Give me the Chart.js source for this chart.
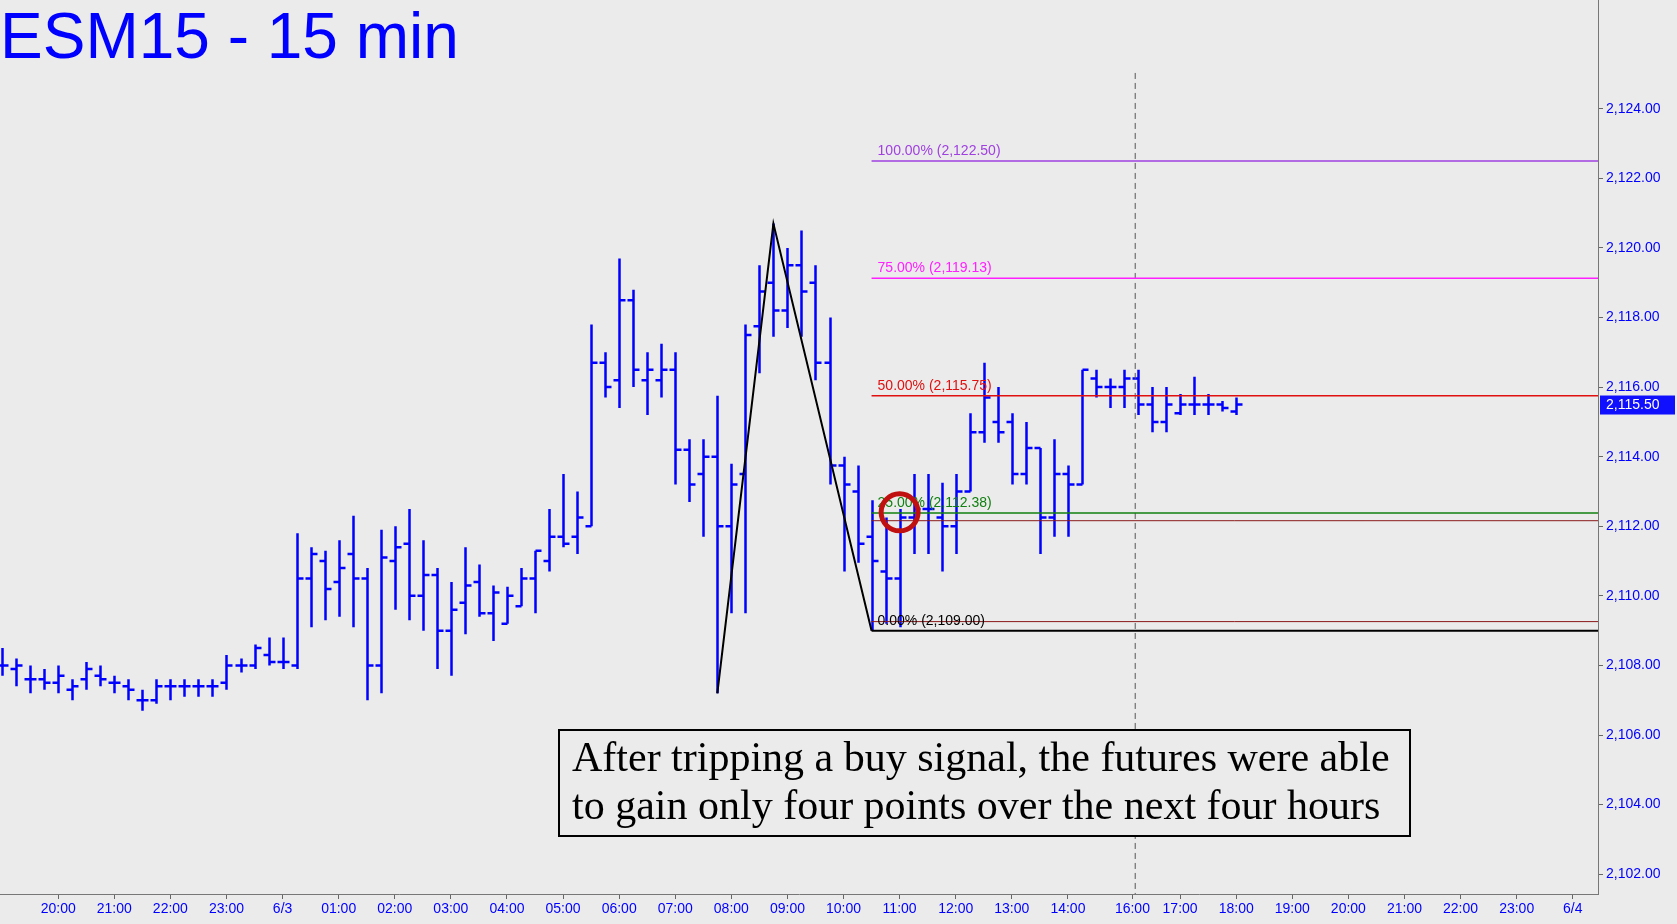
<!DOCTYPE html>
<html>
<head>
<meta charset="utf-8">
<script src="https://cdn.jsdelivr.net/npm/chart.js@4.4.1/dist/chart.umd.min.js"></script>
<style>
  html, body { margin: 0; padding: 0; background: #ebebeb; }
  #wrap { width: 1677px; height: 924px; }
</style>
</head>
<body>
<div id="wrap"><canvas id="c" width="1677" height="924"></canvas></div>
<script>
// 15-minute bars, index 0 = 19:45
const opens = [2108.0,2107.9,2107.6,2107.6,2107.5,2107.3,2107.6,2107.7,2107.5,2107.4,2107.0,2107.0,2107.4,2107.4,2107.4,2107.4,
  2107.5,2108.0,2108.0,2108.3,2108.1,2108.0,2110.5,2111.0,2110.4,2111.2,2110.5,2108.0,2111.0,2111.5,2110.0,2110.6,2109.0,2109.8,2110.4,2109.5,
  2109.2,2109.7,2110.5,2111.0,2111.7,2111.7,2112.0,2116.7,2116.2,2118.5,2116.2,2116.2,2116.5,2114.2,2113.5,2114.0,2112.0,2113.5,2117.75,2119.0,2118.2,2119.5,2119.0,2116.7,
  2113.75,2113.0,2111.7,2110.7,2110.5,2112.25,2112.5,2112.25,2112.0,2113.0,2114.7,2115.0,2115.0,2113.5,2114.25,2112.25,2113.5,2113.2,2116.25,2116.0,2116.0,2116.25,2115.5,2115.0,
  2115.25,2115.5,2115.5,2115.5,2115.3];
const highs = [2108.5,2108.2,2108.0,2107.9,2108.0,2107.6,2108.1,2108.0,2107.7,2107.6,2107.3,2107.6,2107.6,2107.6,2107.6,2107.6,
  2108.3,2108.2,2108.6,2108.8,2108.8,2111.8,2111.4,2111.3,2111.6,2112.3,2110.8,2111.9,2112.0,2112.5,2111.6,2110.8,2110.4,2111.4,2110.9,2110.3,
  2110.26,2110.8,2111.3,2112.5,2113.5,2113.0,2117.8,2117.0,2119.7,2118.8,2117.0,2117.25,2117.0,2114.5,2114.5,2115.75,2113.8,2117.8,2119.5,2120.7,2120.0,2120.5,2119.5,2118.0,
  2114.0,2113.75,2112.75,2112.25,2112.5,2113.5,2113.5,2113.25,2113.5,2115.25,2116.7,2116.0,2115.25,2115.0,2114.25,2114.5,2113.75,2116.5,2116.5,2116.25,2116.5,2116.5,2116.0,2116.0,
  2115.8,2116.3,2115.8,2115.6,2115.7];
const lows = [2107.7,2107.4,2107.2,2107.3,2107.2,2107.0,2107.3,2107.4,2107.2,2107.0,2106.7,2106.9,2107.0,2107.1,2107.1,2107.1,
  2107.3,2107.8,2107.9,2108.0,2107.9,2107.9,2109.1,2109.3,2109.4,2109.1,2107.0,2107.2,2109.6,2109.3,2109.0,2107.9,2107.7,2108.9,2109.4,2108.7,
  2109.2,2109.7,2109.5,2110.7,2111.4,2111.2,2112.0,2115.7,2115.4,2116.0,2115.2,2115.7,2113.2,2112.7,2111.7,2107.2,2109.5,2109.5,2116.4,2117.45,2117.7,2117.45,2116.2,2113.2,
  2110.7,2110.95,2109.0,2109.2,2109.1,2111.2,2111.2,2110.7,2111.2,2113.0,2114.4,2114.4,2113.2,2113.2,2111.2,2111.7,2111.7,2113.2,2115.7,2115.4,2115.4,2115.2,2114.7,2114.7,
  2115.2,2115.2,2115.2,2115.3,2115.2];
const closes = [2108.0,2108.0,2107.6,2107.5,2107.7,2107.4,2107.9,2107.6,2107.5,2107.3,2107.0,2107.4,2107.4,2107.4,2107.4,2107.4,
  2108.0,2108.0,2108.5,2108.1,2108.1,2110.5,2111.2,2110.2,2110.8,2110.5,2108.0,2111.1,2111.4,2110.0,2110.6,2109.0,2109.6,2110.3,2109.5,2110.1,
  2110.0,2110.5,2111.3,2111.7,2111.5,2112.25,2116.7,2116.0,2118.5,2116.5,2116.5,2116.5,2114.2,2113.2,2114.0,2112.0,2113.2,2117.5,2118.75,2118.2,2119.5,2118.75,2116.7,2113.75,
  2113.2,2111.5,2111.0,2110.5,2112.25,2112.5,2112.5,2112.0,2113.0,2114.7,2115.7,2114.7,2113.5,2114.25,2112.25,2113.5,2113.2,2116.5,2116.0,2116.0,2116.25,2115.5,2115.0,2115.5,
  2115.5,2115.5,2115.5,2115.4,2115.5];

// x tick labels and the bar index they sit under
const timeLabels = ['20:00','21:00','22:00','23:00','6/3','01:00','02:00','03:00','04:00','05:00','06:00','07:00','08:00','09:00',
  '10:00','11:00','12:00','13:00','14:00','16:00','17:00','18:00','19:00','20:00','21:00','22:00','23:00','6/4'];
const timeIdx = [4,8,12,16,20,24,28,32,36,40,44,48,52,56,60,64,68,72,76,80.6,84,88,92,96,100,104,108,112];

// swing used for the retracement
const swingIdx = [51, 55, 62];
const swingPx = [2107.2, 2120.7, 2109.0];

const fibPct = ['100.00%','75.00%','50.00%','25.00%','0.00%'];
const fibVal = [2122.50, 2119.13, 2115.75, 2112.38, 2109.00];
const fibColor = ['#a040e0','#ff20ff','#e01010','#108010','#000000'];
const extraLevels = [2112.16, 2109.26];

const lastPrice = 2115.50;
const signalIdx = 64, signalPx = 2112.4;
const sessionIdx = 80.8;
const xMax = 113.8;

const fmt = v => v.toLocaleString('en-US', {minimumFractionDigits: 2, maximumFractionDigits: 2});

const datasets = [];
fibVal.forEach((v, k) => {
  datasets.push({ data: [{x: swingIdx[2], y: v}, {x: xMax, y: v}], borderColor: fibColor[k],
    borderWidth: k === 4 ? 2 : 1.5, pointRadius: 0 });
});
extraLevels.forEach(v => {
  datasets.push({ data: [{x: swingIdx[2], y: v}, {x: xMax, y: v}], borderColor: '#8b1a1a', borderWidth: 1, pointRadius: 0 });
});
datasets.push({ data: swingIdx.map((x, k) => ({x, y: swingPx[k]})), borderColor: '#000', borderWidth: 2, pointRadius: 0 });
datasets.push({ data: [{x: sessionIdx, y: 2101}, {x: sessionIdx, y: 2125.1}], borderColor: '#555', borderWidth: 1,
  borderDash: [6, 4], pointRadius: 0 });

const ohlcPlugin = {
  id: 'ohlc',
  beforeDatasetsDraw(chart) {
    const { ctx, scales: { x, y } } = chart;
    ctx.save();
    ctx.strokeStyle = '#0000ff';
    ctx.lineWidth = 2.5;
    ctx.beginPath();
    opens.forEach((o, i) => {
      const px = Math.round(x.getPixelForValue(i)) + 0.5;
      ctx.moveTo(px, y.getPixelForValue(highs[i]));
      ctx.lineTo(px, y.getPixelForValue(lows[i]));
      const yo = y.getPixelForValue(o), yc = y.getPixelForValue(closes[i]);
      ctx.moveTo(px - 6, yo); ctx.lineTo(px, yo);
      ctx.moveTo(px, yc); ctx.lineTo(px + 6, yc);
    });
    ctx.stroke();
    ctx.restore();
  },
  afterDatasetsDraw(chart) {
    const { ctx, scales: { x, y }, chartArea } = chart;
    ctx.save();
    // axis line up to the top edge
    ctx.strokeStyle = '#777';
    ctx.lineWidth = 1;
    ctx.beginPath();
    ctx.moveTo(chartArea.right + 0.5, 0);
    ctx.lineTo(chartArea.right + 0.5, chartArea.top);
    ctx.stroke();
    // fib labels
    ctx.font = '14px "Liberation Sans", Arial, sans-serif';
    ctx.textBaseline = 'bottom';
    fibVal.forEach((v, k) => {
      ctx.fillStyle = fibColor[k];
      ctx.fillText(`${fibPct[k]} (${fmt(v)})`, x.getPixelForValue(swingIdx[2]) + 6, y.getPixelForValue(v) - 3);
    });
    // signal circle
    ctx.strokeStyle = '#c01010';
    ctx.lineWidth = 5;
    ctx.beginPath();
    ctx.arc(x.getPixelForValue(signalIdx), y.getPixelForValue(signalPx), 18.5, 0, Math.PI * 2);
    ctx.stroke();
    // title
    ctx.fillStyle = '#0000ff';
    ctx.font = '64px "Liberation Sans", Arial, sans-serif';
    ctx.textBaseline = 'alphabetic';
    ctx.fillText('ESM15 - 15 min', 0, 58);
    // note box
    ctx.fillStyle = '#ebebeb';
    ctx.fillRect(559, 730, 851, 106);
    ctx.strokeStyle = '#000';
    ctx.lineWidth = 2;
    ctx.strokeRect(559, 730, 851, 106);
    ctx.fillStyle = '#000';
    ctx.font = '42px "Liberation Serif", "Times New Roman", serif';
    ctx.fillText('After tripping a buy signal, the futures were able', 572, 771);
    ctx.fillText('to gain only four points over the next four hours', 572, 819);
    // last price tag
    const yp = y.getPixelForValue(lastPrice);
    ctx.fillStyle = '#1010ff';
    ctx.fillRect(chartArea.right + 2, yp - 9, 75, 19);
    ctx.fillStyle = '#fff';
    ctx.font = '14px "Liberation Sans", Arial, sans-serif';
    ctx.textBaseline = 'middle';
    ctx.fillText(fmt(lastPrice), chartArea.right + 8, yp + 1);
    ctx.restore();
  }
};

new Chart(document.getElementById('c'), {
  type: 'line',
  data: { datasets },
  options: {
    responsive: false,
    animation: false,
    layout: { padding: 0 },
    plugins: { legend: { display: false }, tooltip: { enabled: false } },
    scales: {
      x: {
        type: 'linear', position: 'bottom', min: -0.15, max: xMax,
        afterFit(s) { s.height = 30; },
        afterBuildTicks(s) { s.ticks = timeIdx.map(v => ({ value: v })); },
        grid: { drawOnChartArea: false, tickLength: 5, color: '#666' },
        border: { color: '#777' },
        ticks: {
          autoSkip: false, maxRotation: 0, color: '#0000ff', padding: 2,
          font: { family: '"Liberation Sans", Arial, sans-serif', size: 14 },
          callback: (v) => timeLabels[timeIdx.indexOf(v)]
        }
      },
      y: {
        position: 'right', min: 2101.43, max: 2126.80,
        afterFit(s) { s.width = 79; },
        afterBuildTicks(s) {
          const t = [];
          for (let v = 2102; v <= 2124; v += 2) t.push({ value: v });
          s.ticks = t;
        },
        grid: { drawOnChartArea: false, tickLength: 5, color: '#666' },
        border: { color: '#777' },
        ticks: {
          color: '#0000ff', padding: 3,
          font: { family: '"Liberation Sans", Arial, sans-serif', size: 14 },
          callback: v => fmt(v)
        }
      }
    }
  },
  plugins: [ohlcPlugin]
});
</script>
</body>
</html>
